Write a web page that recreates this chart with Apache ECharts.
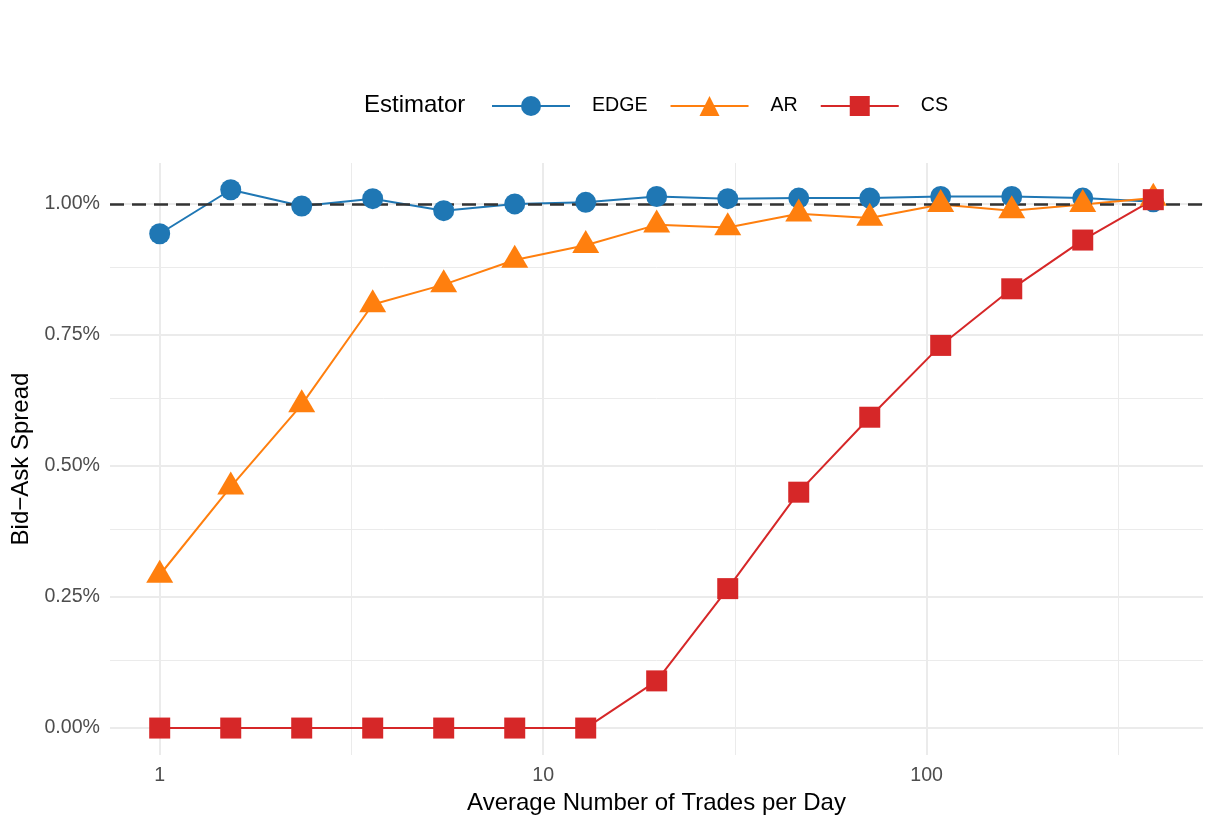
<!DOCTYPE html>
<html>
<head>
<meta charset="utf-8">
<script src="https://cdn.jsdelivr.net/npm/echarts@6/dist/echarts.min.js"></script>
<style>
	html, body { margin: 0; padding: 0; background: #fff; }
	#chart { width: 1208px; height: 827px; }
</style>
</head>
<body>
<div id="chart"></div>
<script>
	// average number of trades per day (x, log scale)
	var tradesPerDay = [1, 1.532, 2.346, 3.593, 5.503, 8.43, 12.91, 19.77, 30.29, 46.39, 71.06, 108.8, 166.7, 255.3, 390];
	// estimated spread in % for each estimator
	var edgeValues = [0.943, 1.027, 0.996, 1.010, 0.987, 1.000, 1.003, 1.014, 1.010, 1.011, 1.011, 1.014, 1.014, 1.011, 1.004];
	var arValues   = [0.292, 0.460, 0.617, 0.808, 0.846, 0.893, 0.921, 0.960, 0.955, 0.981, 0.973, 0.999, 0.987, 0.999, 1.011];
	var csValues   = [0, 0, 0, 0, 0, 0, 0, 0.090, 0.266, 0.450, 0.593, 0.730, 0.838, 0.931, 1.008];
	var trueSpread = 1;

	var xTicks = [1, 10, 100];
	var xMinorTicks = [3.162, 31.62, 316.2];
	var yTicks = [0, 0.25, 0.5, 0.75, 1];
	var yMinorTicks = [0.125, 0.375, 0.625, 0.875];

	var FONT = 'Liberation Sans';
	var GRID_COLOR = '#ebebeb';

	function pairs(ys) {
		var out = [];
		for (var i = 0; i < ys.length; i++) {
			out.push([tradesPerDay[i], ys[i]]);
		}
		return out;
	}

	// R's filled triangle sits with its centroid on the point, so push it up a bit
	var estimators = [
		{name: 'EDGE', values: edgeValues, color: '#1f77b4', symbol: 'circle', size: 21, offset: [0, 0]},
		{name: 'AR', values: arValues, color: '#ff7f0e', symbol: 'triangle', size: [27, 23], offset: [0, '-16.7%']},
		{name: 'CS', values: csValues, color: '#d62728', symbol: 'rect', size: 21, offset: [0, 0]}
	];

	var minorLines = [];
	xMinorTicks.forEach(function(v) { minorLines.push({xAxis: v}); });
	yMinorTicks.forEach(function(v) { minorLines.push({yAxis: v}); });

	var series = [{
		// minor grid lines
		type: 'line',
		data: [],
		z: 0,
		silent: true,
		markLine: {
			z: 0,
			silent: true,
			symbol: 'none',
			label: {show: false},
			emphasis: {disabled: true},
			lineStyle: {color: GRID_COLOR, width: 1, type: 'solid'},
			data: minorLines
		}
	}];

	// lines first
	estimators.forEach(function(e) {
		series.push({
			name: e.name,
			type: 'line',
			data: pairs(e.values),
			symbol: e.symbol,
			symbolSize: e.size,
			showSymbol: false,
			z: 2,
			lineStyle: {color: e.color, width: 2},
			itemStyle: {color: e.color},
			emphasis: {disabled: true}
		});
	});

	// dashed reference at the true spread
	series.push({
		type: 'line',
		data: [],
		z: 3,
		silent: true,
		markLine: {
			z: 3,
			silent: true,
			symbol: 'none',
			label: {show: false},
			emphasis: {disabled: true},
			lineStyle: {color: '#333333', width: 2.5, type: [14, 8]},
			data: [{yAxis: trueSpread}]
		}
	});

	// points on top
	estimators.forEach(function(e) {
		series.push({
			name: e.name,
			type: 'scatter',
			data: pairs(e.values),
			symbol: e.symbol,
			symbolSize: e.size,
			symbolOffset: e.offset,
			z: 4,
			itemStyle: {color: e.color, opacity: 1},
			emphasis: {disabled: true}
		});
	});

	var chart = echarts.init(document.getElementById('chart'), null, {renderer: 'canvas'});
	chart.setOption({
		animation: false,
		backgroundColor: '#ffffff',
		textStyle: {fontFamily: FONT},
		grid: {left: 110, right: 5, top: 163, bottom: 72, containLabel: false},
		graphic: [{
			type: 'text',
			left: 364,
			top: 93,
			style: {text: 'Estimator', font: '24px "Liberation Sans"', fill: '#000'}
		}],
		legend: {
			data: ['EDGE', 'AR', 'CS'],
			left: 486,
			top: 91,
			itemWidth: 78,
			itemHeight: 25,
			itemGap: 22,
			selectedMode: false,
			textStyle: {fontSize: 19.6, color: '#000', fontFamily: FONT, padding: [0, 0, 0, 17]}
		},
		xAxis: {
			type: 'log',
			logBase: 10,
			min: 0.742,
			max: 525.6,
			name: 'Average Number of Trades per Day',
			nameLocation: 'middle',
			nameGap: 32,
			nameTextStyle: {fontSize: 24, color: '#000', fontFamily: FONT},
			axisLine: {show: false},
			axisTick: {show: false, customValues: xTicks},
			axisLabel: {
				customValues: xTicks,
				fontSize: 19.6,
				color: '#4d4d4d',
				margin: 11,
				formatter: function(v) { return String(Math.round(v)); }
			},
			splitLine: {show: true, lineStyle: {color: GRID_COLOR, width: 2}},
			minorSplitLine: {show: false}
		},
		yAxis: {
			type: 'value',
			min: -0.0514,
			max: 1.078,
			name: 'Bid\u2212Ask Spread',
			nameLocation: 'middle',
			nameGap: 66,
			nameTextStyle: {fontSize: 24, color: '#000', fontFamily: FONT},
			axisLine: {show: false},
			axisTick: {show: false, customValues: yTicks},
			axisLabel: {
				customValues: yTicks,
				fontSize: 19.6,
				color: '#4d4d4d',
				margin: 10,
				formatter: function(v) { return v.toFixed(2) + '%'; }
			},
			splitLine: {show: true, lineStyle: {color: GRID_COLOR, width: 2}}
		},
		series: series
	});
</script>
</body>
</html>
